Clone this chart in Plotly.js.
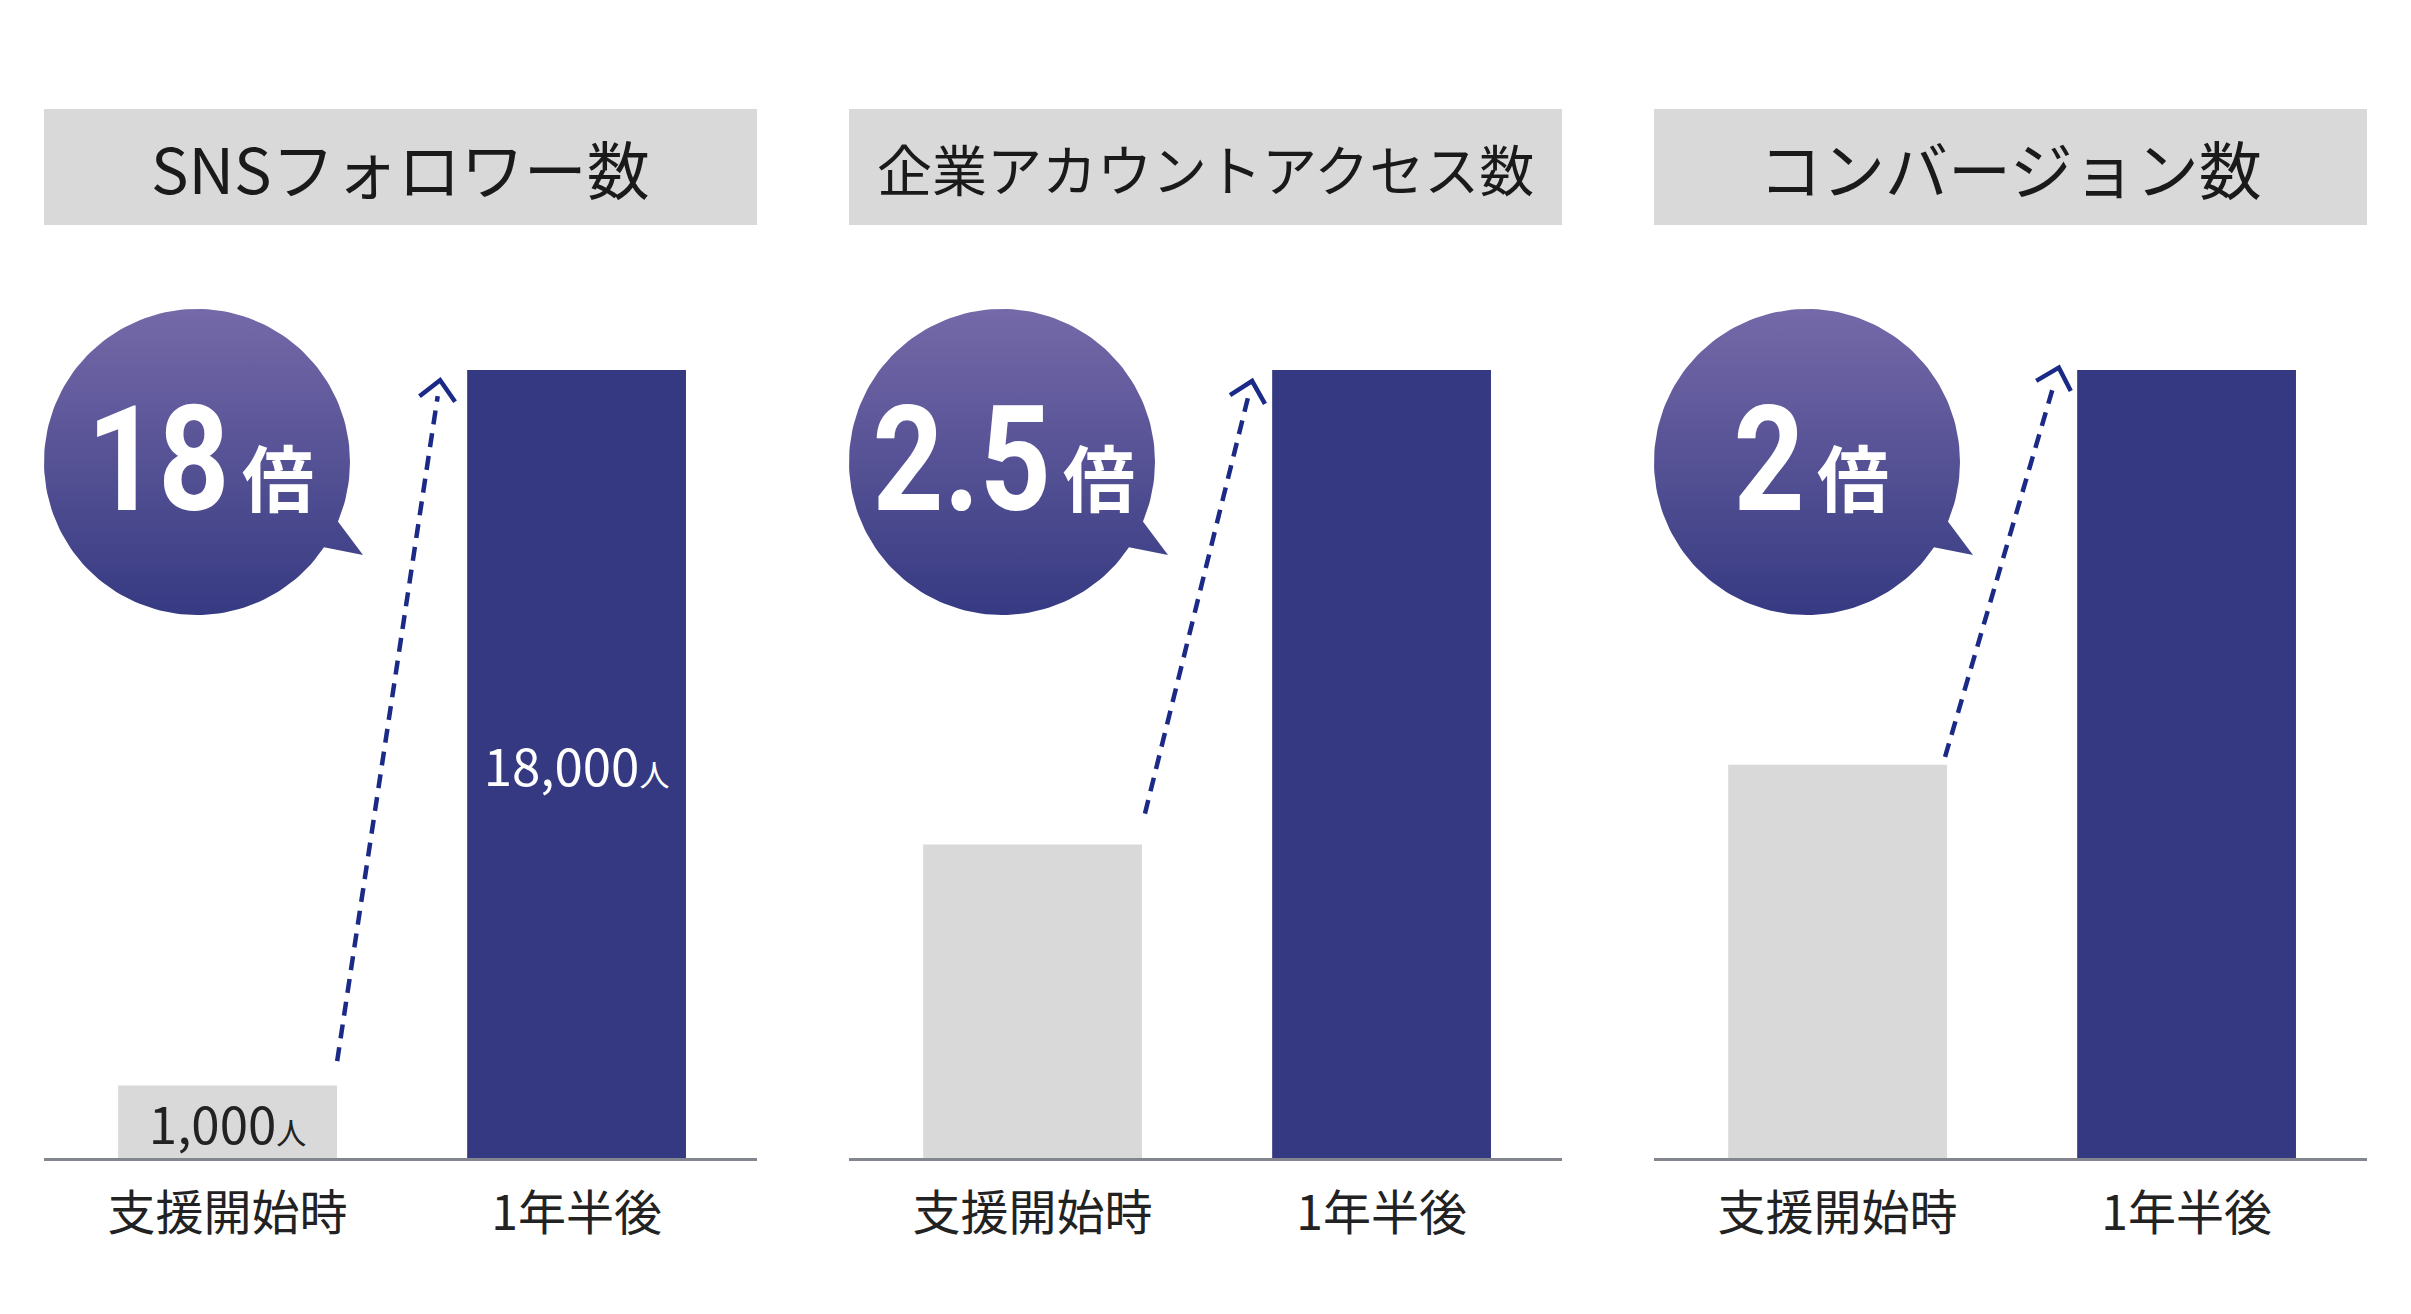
<!DOCTYPE html>
<html>
<head>
<meta charset="utf-8">
<script src="https://cdn.plot.ly/plotly-3.0.1.min.js"></script>
<style>
  body{margin:0;background:#fff}
  #chart{width:2411px;height:1314px}
</style>
</head>
<body>
<div id="chart"></div>
<script>
// values
var panelTitles = ['SNSフォロワー数', '企業アカウントアクセス数', 'コンバージョン数'];
var categories = ['支援開始時', '1年半後'];
var multipliers = ['18', '2.5', '2'];
// bar heights as drawn, in % of the "1年半後" bar
var beforeHeights = [9.2, 39.8, 49.9];
var afterHeights = [100, 100, 100];
// SNS follower labels
var snsCounts = ['1,000', '18,000'];
var snsUnit = '人';

var W = 2411, H = 1314;
var panelLeft = [44, 849, 1654], panelW = 713;
var plotTop = 370, plotBottom = 1158;
var titleTop = 109, titleBottom = 225;
var xRange = [-0.526, 1.517];
var jp = 'Noto Sans CJK JP, Noto Sans, sans-serif';
var navy = '#353982', grey = '#d9d9d9', arrowCol = '#1b2a86';
var squeeze = 0.85; // the badge digits are a condensed face

function px(x){ return x / W }
function py(y){ return 1 - y / H }

// arrow ends in each panel's data coords (x category units, y bar %)
var arrowStart = [[0.314, 12.3], [0.322, 43.7], [0.308, 50.9]];
var arrowTip = [[0.609, 98.7], [0.629, 98.6], [0.634, 100.3]];

var xUnit = panelW / (xRange[1] - xRange[0]), yUnit = (plotBottom - plotTop) / 100;

var data = [], shapes = [], annotations = [], numIdx = [];
var layout = {
  width: W, height: H,
  margin: {l: 0, r: 0, t: 0, b: 0},
  paper_bgcolor: '#fff', plot_bgcolor: 'rgba(0,0,0,0)',
  showlegend: false, hovermode: false,
  bargap: 0.373
};

for (var k = 0; k < 3; k++) {
  var s = k == 0 ? '' : String(k + 1);
  var isSns = k == 0;
  data.push({
    type: 'bar', x: categories, y: [beforeHeights[k], afterHeights[k]],
    xaxis: 'x' + s, yaxis: 'y' + s,
    marker: {color: [grey, navy]},
    text: isSns ? snsCounts.map(function(c){ return c + '<span style="font-size:30px">' + snsUnit + '</span>' }) : null,
    textposition: isSns ? 'inside' : 'none', insidetextanchor: 'middle', textangle: 0, constraintext: 'none',
    textfont: {family: jp, size: 51, color: ['#222', '#fff']},
    hoverinfo: 'skip'
  });

  layout['xaxis' + s] = {
    domain: [px(panelLeft[k]), px(panelLeft[k] + panelW)], anchor: 'y' + s,
    type: 'category', range: xRange, fixedrange: true,
    showline: true, linecolor: '#83868f', linewidth: 3,
    ticks: '', showgrid: false, zeroline: false,
    tickfont: {family: jp, size: 48, color: '#222'}, ticklabelstandoff: 11
  };
  layout['yaxis' + s] = {
    domain: [py(plotBottom), py(plotTop)], anchor: 'x' + s,
    range: [0, 100], visible: false, fixedrange: true
  };

  // grey title box + title
  shapes.push({type: 'rect', xref: 'paper', yref: 'paper', layer: 'below',
    x0: px(panelLeft[k]), x1: px(panelLeft[k] + panelW), y0: py(titleBottom), y1: py(titleTop),
    fillcolor: grey, line: {width: 0}});
  annotations.push({xref: 'paper', yref: 'paper', x: px(panelLeft[k] + panelW / 2), y: py(167),
    xanchor: 'center', yanchor: 'middle', showarrow: false, text: panelTitles[k],
    font: {family: jp, size: k == 1 ? 55 : 63, color: '#1a1a1a'}});

  // dashed growth arrow
  var a0 = arrowStart[k], a1 = arrowTip[k];
  var dxp = (a1[0] - a0[0]) * xUnit, dyp = (a1[1] - a0[1]) * yUnit;
  var len = Math.sqrt(dxp * dxp + dyp * dyp);
  var back = 16 / len;
  shapes.push({type: 'line', xref: 'x' + s, yref: 'y' + s, layer: 'above',
    x0: a0[0], y0: a0[1],
    x1: a1[0] - (a1[0] - a0[0]) * back, y1: a1[1] - (a1[1] - a0[1]) * back,
    line: {color: arrowCol, width: 4.5, dash: '14px,9px'}});
  // open chevron head, built in page pixels
  var tx = panelLeft[k] + (a1[0] - xRange[0]) * xUnit, ty = plotBottom - a1[1] * yUnit;
  var ux = dxp / len, uy = -dyp / len;   // screen direction (y down)
  var nx = -uy, ny = ux;
  var hb = 19, hw = 18;
  var lx = tx - ux * hb - nx * hw, ly = ty - uy * hb - ny * hw;
  var rx = tx - ux * hb + nx * hw, ry = ty - uy * hb + ny * hw;
  shapes.push({type: 'path', xref: 'paper', yref: 'paper', layer: 'above',
    path: 'M' + px(lx) + ',' + py(ly) + ' L' + px(tx) + ',' + py(ty) + ' L' + px(rx) + ',' + py(ry),
    line: {color: arrowCol, width: 4.5}});

  // speech bubble with gradient
  var cx = panelLeft[k] + 153, cy = 462, r = 153;
  var bx = [], by = [];
  var tailDone = false;
  for (var d = 0; d <= 360; d += 2) {
    if (d > 22 && d < 35) {
      if (!tailDone) {
        var t1 = 22.9 * Math.PI / 180, t2 = 33.9 * Math.PI / 180;
        bx.push(cx + r * Math.cos(t1)); by.push(cy + r * Math.sin(t1));
        bx.push(cx + 166); by.push(cy + 93);
        bx.push(cx + r * Math.cos(t2)); by.push(cy + r * Math.sin(t2));
        tailDone = true;
      }
      continue;
    }
    var rad = d * Math.PI / 180;
    bx.push(cx + r * Math.cos(rad)); by.push(cy + r * Math.sin(rad));
  }
  data.push({type: 'scatter', mode: 'lines', x: bx, y: by, xaxis: 'x4', yaxis: 'y4',
    fill: 'toself', line: {width: 0, color: 'rgba(0,0,0,0)'},
    fillgradient: {type: 'vertical', start: cy - r, stop: cy + r,
      colorscale: [[0, '#7569a8'], [1, '#363a82']]},
    hoverinfo: 'skip'});

  // badge text: number + 倍, grouped round the bubble centre
  var numSize = 146;
  var adv = multipliers[k].split('').reduce(function(a, ch){ return a + (ch == '.' ? 0.27 : 0.562) }, 0);
  var numW = adv * numSize * squeeze, gap = 10, baiW = 72;
  var left = cx + 5 - (numW + gap + baiW) / 2, right = left + numW;
  numIdx.push(annotations.length);
  annotations.push({xref: 'paper', yref: 'paper', x: px(right), y: py(460),
    xanchor: 'right', yanchor: 'middle', showarrow: false, borderpad: 0,
    text: multipliers[k], font: {family: 'Roboto, sans-serif', size: numSize, color: '#fff', weight: 700}});
  annotations.push({xref: 'paper', yref: 'paper', x: px(right + gap), y: py(474),
    xanchor: 'left', yanchor: 'middle', showarrow: false, borderpad: 0,
    text: '倍', font: {family: jp, size: 72, color: '#fff', weight: 700}});
}

layout.xaxis4 = {domain: [0, 1], range: [0, W], visible: false, fixedrange: true, anchor: 'y4'};
layout.yaxis4 = {domain: [0, 1], range: [H, 0], visible: false, fixedrange: true, anchor: 'x4'};
layout.shapes = shapes;
layout.annotations = annotations;

Plotly.newPlot('chart', data, layout, {staticPlot: true, displayModeBar: false}).then(function(gd){
  // narrow the badge digits, keeping their right edge in place
  numIdx.forEach(function(i){
    var t = gd.querySelector('.annotation[data-index="' + i + '"] text');
    if (t) {
      t.style.transformBox = 'fill-box';
      t.style.transformOrigin = 'right center';
      t.style.transform = 'scaleX(' + squeeze + ')';
    }
  });
});
</script>
</body>
</html>
